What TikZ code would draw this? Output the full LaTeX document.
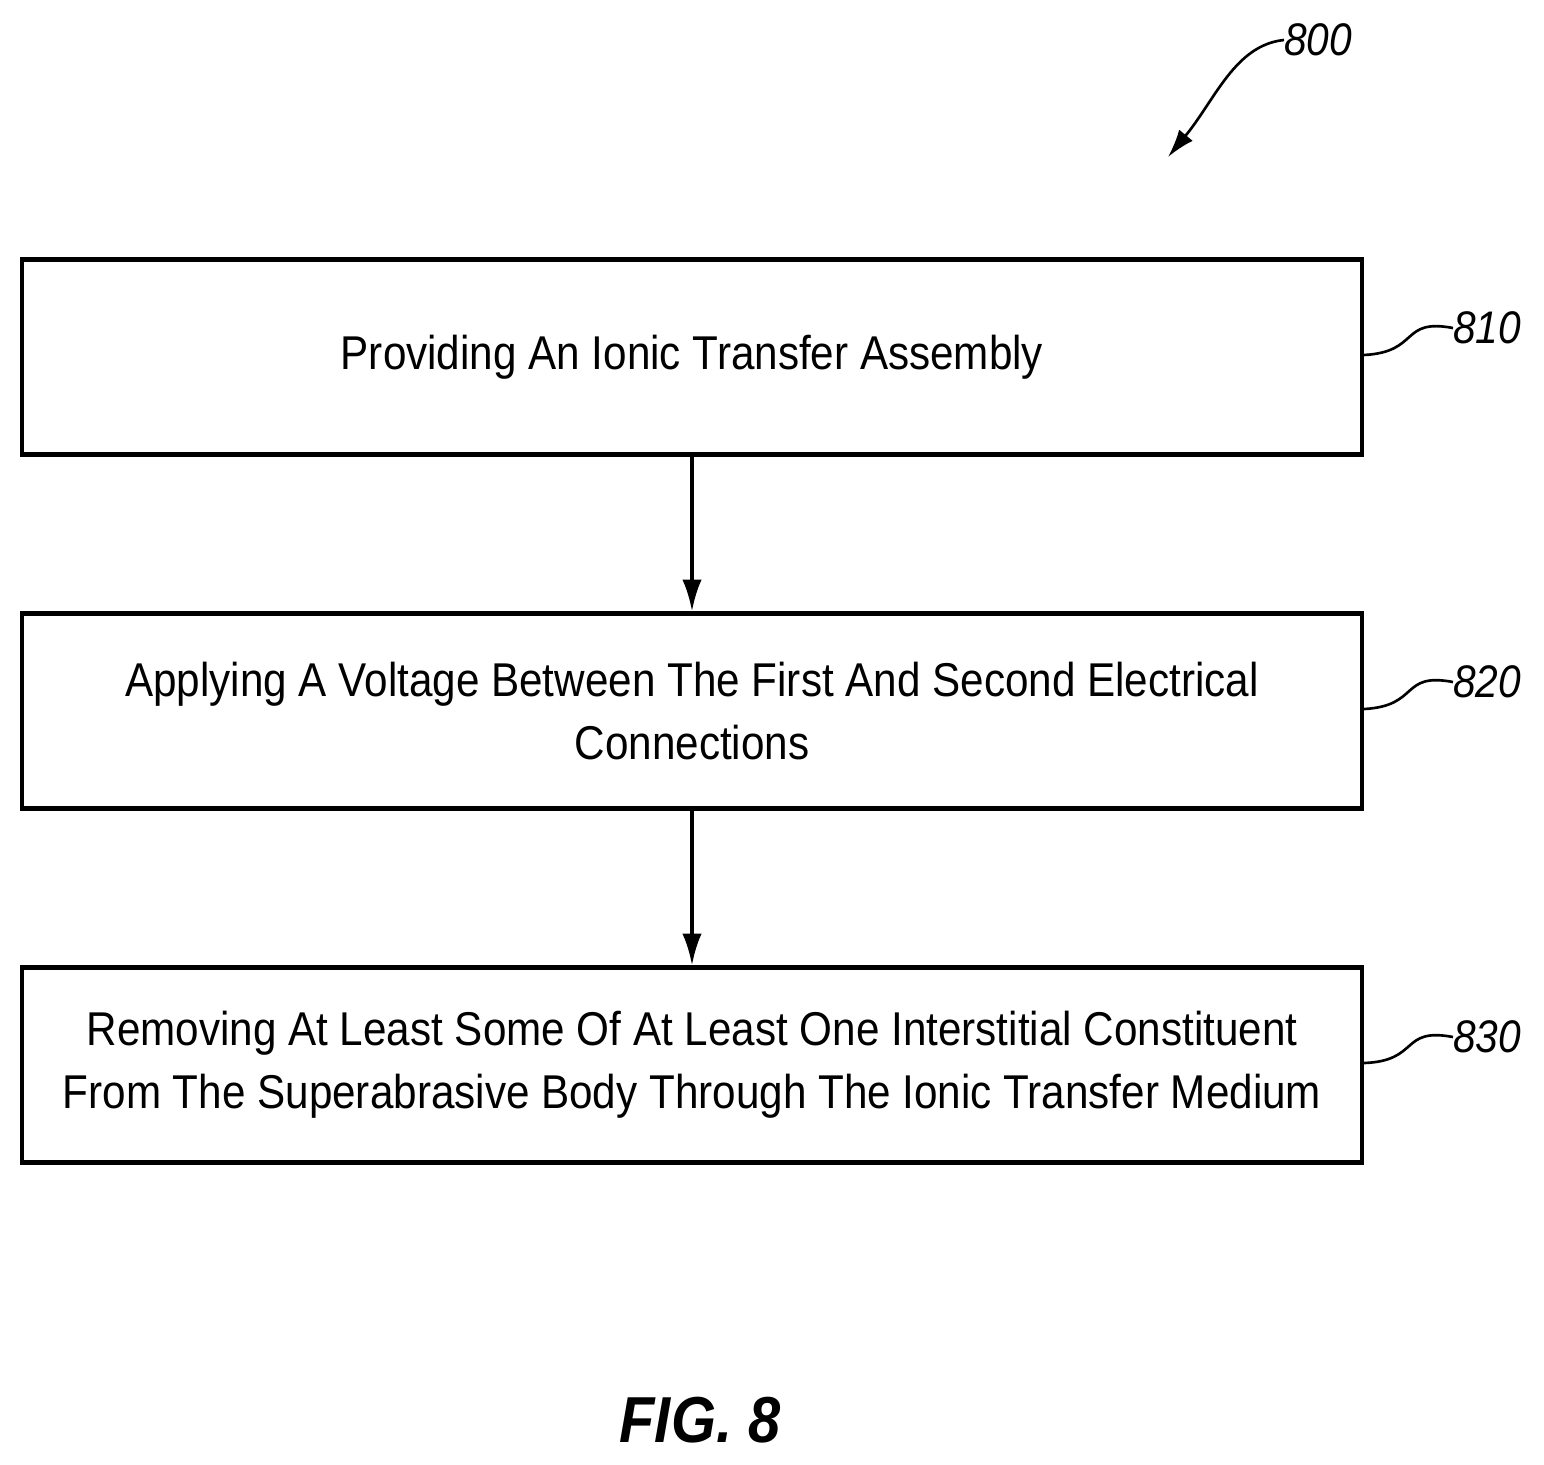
\documentclass[tikz,border=0pt]{standalone}
\usepackage{fontspec}
\setmainfont{Liberation Sans}[FakeStretch=0.89]
\usetikzlibrary{positioning,arrows.meta}
\tikzset{>=latex}
\begin{document}
\begin{tikzpicture}[x=0.02cm,y=-0.02cm]

	\tikzstyle{step_box} = [draw=black, line width=2.6pt, minimum width=26.8cm, minimum height=3.9cm, align=center, font=\fontsize{27}{36}\selectfont, inner sep=0pt]
	\tikzstyle{ref_label} = [font=\fontsize{26}{30}\selectfont\itshape, anchor=west, inner sep=0pt]
	\tikzstyle{lead_line} = [line width=1.5pt]

	\useasboundingbox (0,0) rectangle (1544,1464);

%------------------------------------------------------------
	\node[step_box] (s810) at (692,357) {Providing An Ionic Transfer Assembly};
	\node[step_box] (s820) at (692,711) {Applying A Voltage Between The First And Second Electrical\\Connections};
	\node[step_box] (s830) at (692,1065) {Removing At Least Some Of At Least One Interstitial Constituent\\From The Superabrasive Body Through The Ionic Transfer Medium};

	\draw[-{Latex[length=18pt,width=11pt]}, line width=2pt] (s810) -- (s820);
	\draw[-{Latex[length=18pt,width=11pt]}, line width=2pt] (s820) -- (s830);

%------------------------------------------------------------
	\node[ref_label] (r810) at (1453,328) {810};
	\node[ref_label] (r820) at (1453,682) {820};
	\node[ref_label] (r830) at (1453,1037) {830};

	\draw[lead_line] (s810.east) ++(0,-2) .. controls (1420,352) and (1400,318) .. (r810.west);
	\draw[lead_line] (s820.east) ++(0,-2) .. controls (1420,706) and (1400,672) .. (r820.west);
	\draw[lead_line] (s830.east) ++(0,-2) .. controls (1420,1061) and (1400,1027) .. (r830.west);

%------------------------------------------------------------
	\node[ref_label] (r800) at (1284,40) {800};
	\coordinate (p800) at (1168,157);
	\draw[lead_line, -{Latex[length=16pt,width=10pt]}] (r800.west) .. controls (1235,45) and (1215,100) .. (p800);

	\node[font=\fontsize{37}{40}\selectfont\bfseries\itshape] (fig) at (700,1420) {FIG. 8};

\end{tikzpicture}
\end{document}
